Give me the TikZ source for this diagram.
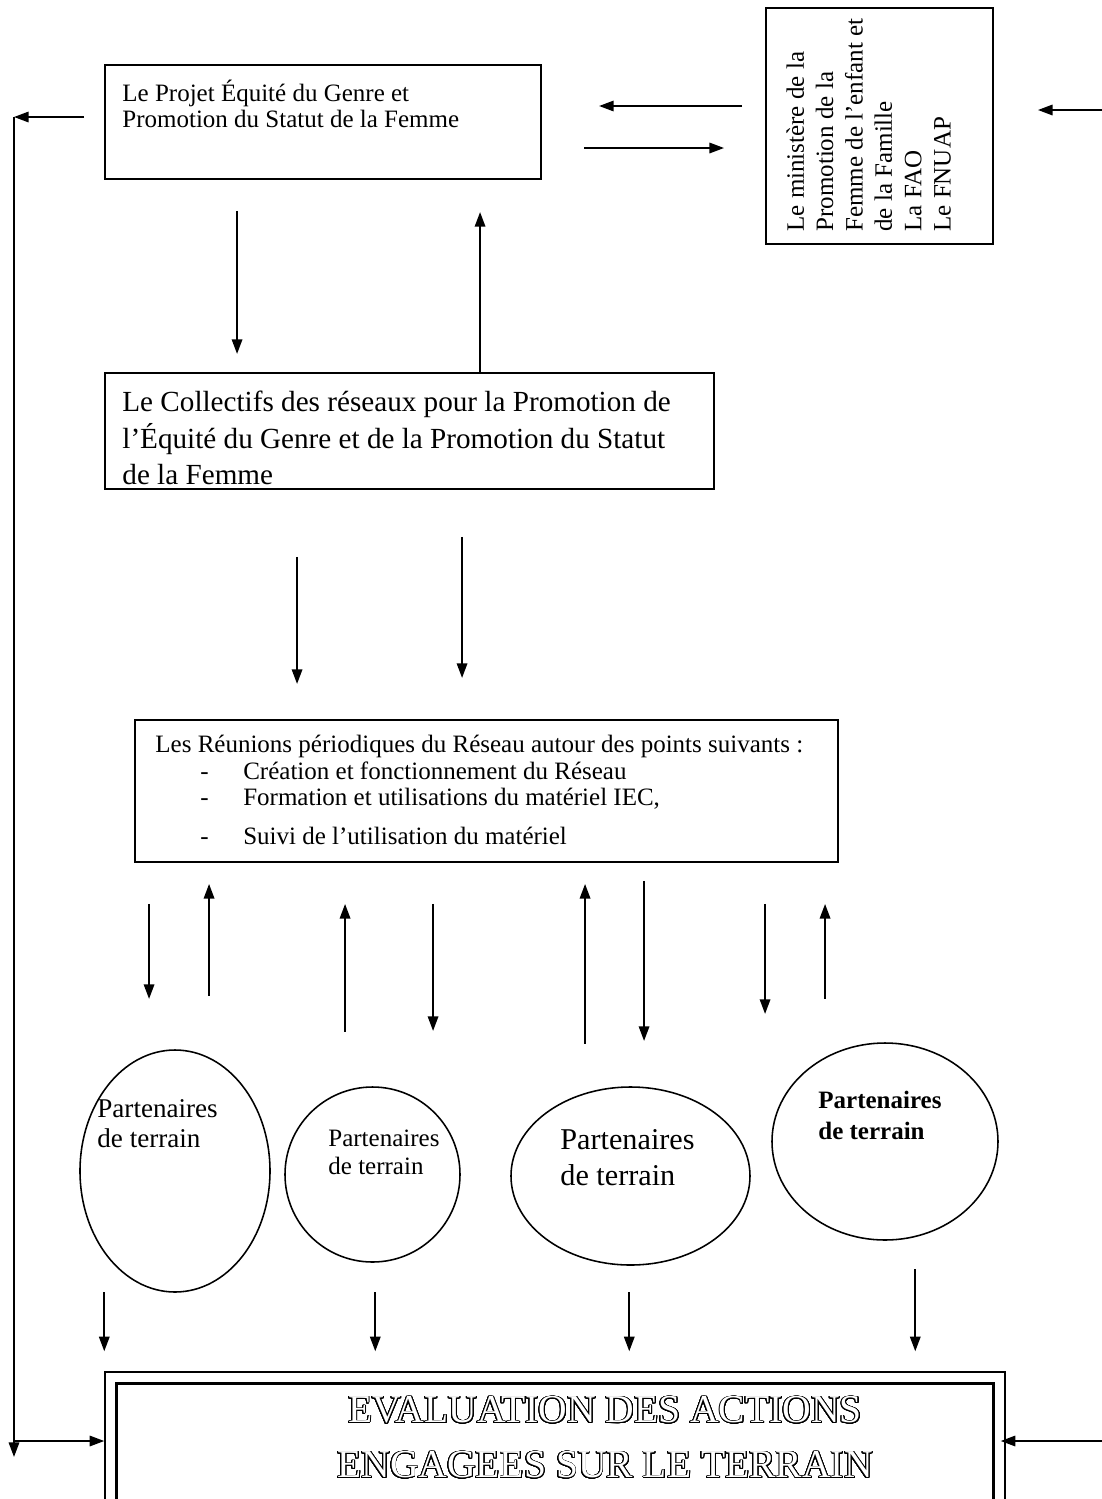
\documentclass[tikz,border=0pt]{standalone}
\usepackage{fontspec}
\setmainfont{Liberation Serif}
\usepackage[copies]{contour}
\contourlength{0.45pt}
\contournumber{32}
\usetikzlibrary{arrows.meta,calc,shapes.geometric}
\newcommand{\pxl}{0.48pt}

\begin{document}
\begin{tikzpicture}[x=0.48pt, y=-0.48pt]
\useasboundingbox (0,0) rectangle (1102,1499);
\tikzstyle{block} = [draw, rectangle, line width=0.9pt, inner sep=0pt]
\tikzstyle{partner} = [draw, ellipse, line width=0.75pt, inner sep=0pt]
\tikzstyle{txt} = [anchor=north west, align=left, inner sep=0pt]
\tikzstyle{line} = [draw, line width=0.9pt, -{Triangle[length=7pt, width=5pt]}]
\tikzset{boxsize/.style 2 args={minimum width=#1*\pxl, minimum height=#2*\pxl}}
\node [block, boxsize={436}{114}] at (323, 122) (projet) {};
\node [block, boxsize={227}{236}] at (879.5, 126) (ministere) {};
\node [block, boxsize={609}{116}] at (409.5, 431) (collectif) {};
\node [block, boxsize={703}{142}] at (486.5, 791) (reunion) {};
\node [partner, boxsize={190}{242}] at (175, 1171) (p1) {};
\node [partner, boxsize={175}{175}] at (372.5, 1174.5) (p2) {};
\node [partner, boxsize={239}{178}] at (630.5, 1176) (p3) {};
\node [partner, boxsize={226}{197}] at (885, 1141.5) (p4) {};
\node [draw, rectangle, line width=0.7pt, boxsize={900}{188}] at (555, 1466) (evaluation) {};
\draw [line width=1.4pt] ($(evaluation.north west)+(12,12)$) rectangle ($(evaluation.south east)+(-12,-12)$);
\node [txt, font=\fontsize{12}{12.5}\selectfont] at (122, 80) (projettxt)
  {Le Projet Équité du Genre et\\ Promotion du Statut de la Femme};
\node [txt, rotate=90, font=\fontsize{12}{14.1}\selectfont] at (786, 232) (ministeretxt)
  {Le ministère de la\\ Promotion de la\\ Femme de l’enfant et\\ de la Famille\\ La FAO\\ Le FNUAP};
\node [txt, font=\fontsize{14}{17.3}\selectfont] at (122, 391) (collectiftxt)
  {Le Collectifs des réseaux pour la Promotion de\\ l’Équité du Genre et de la Promotion du Statut\\ de la Femme};
\node [txt, font=\fontsize{12}{12.7}\selectfont] at (155, 735) (reuniontxt)
  {Les Réunions périodiques du Réseau autour des points suivants :\\
   \makebox[42.2pt][l]{\hspace*{21.6pt}-}Création et fonctionnement du Réseau\\
   \makebox[42.2pt][l]{\hspace*{21.6pt}-}Formation et utilisations du matériel IEC,\\[6pt]
   \makebox[42.2pt][l]{\hspace*{21.6pt}-}Suivi de l’utilisation du matériel};
\node [txt, font=\fontsize{13}{14.4}\selectfont] at (97, 1099) (p1txt) {Partenaires\\ de terrain};
\node [txt, font=\fontsize{12}{13.4}\selectfont] at (328, 1130) (p2txt) {Partenaires\\ de terrain};
\node [txt, font=\fontsize{14.5}{17.3}\selectfont] at (560, 1129) (p3txt) {Partenaires\\ de terrain};
\node [txt, font=\fontsize{12}{14.9}\selectfont\bfseries] at (818, 1091) (p4txt) {Partenaires\\ de terrain};
\node [align=center, text=white, font=\fontsize{19}{26.4}\selectfont] at (605, 1438) (evaltxt)
  {\contour{black}{EVALUATION DES ACTIONS}\\ \contour{black}{ENGAGEES SUR LE TERRAIN}};
\path [line] ($(projet.south west)+(133,31)$) -- ($(projet.south west)+(133,174)$);
\path [line] ($(collectif.north west)+(376,0)$) -- ($(collectif.north west)+(376,-160)$);
\path [line] ($(collectif.south west)+(193,67)$) -- ++(0,127);
\path [line] ($(collectif.south west)+(358,47)$) -- ++(0,141);
\foreach \dx/\ya/\yb in {15/41/136, 75/133/21, 211/169/41, 299/41/168, 451/181/21, 510/18/178, 631/41/151, 691/136/41}
  \path [line] ($(reunion.south west)+(\dx,\ya)$) -- ($(reunion.south west)+(\dx,\yb)$);
\foreach \dx/\ya in {0/79, 271/79, 525/79, 811/102}
  \path [line] ($(evaluation.north west)+(\dx,-\ya)$) -- ($(evaluation.north west)+(\dx,-20)$);
\path [line] ($(ministere.west)+(-23,-20)$) -- ($(ministere.west)+(-166,-20)$);
\path [line] ($(ministere.west)+(-181,22)$) -- ($(ministere.west)+(-41,22)$);
\path [line] ($(ministere.east)+(109,-16)$) -- ($(ministere.east)+(44,-16)$);
\coordinate (coinhaut) at (14, 117);
\coordinate (coinbas) at (14, 1441);
\coordinate (bordbas) at (1102, 1441);
\path [line] ($(projet.west)+(-20,-5)$) -- (coinhaut);
\path [line] (coinhaut) -- ($(coinbas)+(0,16)$);
\path [line] (coinbas) -- (coinbas -| evaluation.west);
\path [line] (bordbas) -- ($(bordbas -| evaluation.east)+(-5,0)$);
\end{tikzpicture}
\end{document}
